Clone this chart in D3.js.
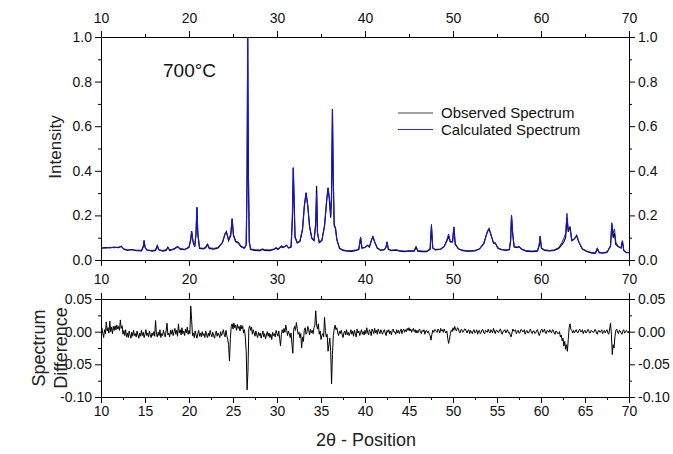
<!DOCTYPE html>
<html><head><meta charset="utf-8">
<script src="https://cdn.jsdelivr.net/npm/d3@7"></script>
<style>body{margin:0;background:#fff}text{font-family:"Liberation Sans",Arial,sans-serif}</style>
</head><body><svg id="c" width="673" height="454"></svg>
<script>
const twoTheta=[
10.0,10.5,11.0,11.5,12.0,12.3,12.6,13.0,13.5,14.0,
14.6,14.8,14.9,15.0,15.2,15.8,16.2,16.4,16.55,17.0,
17.4,17.6,17.8,18.3,18.7,19.0,19.5,20.0,20.2,20.3,
20.45,20.65,20.8,20.9,21.0,21.2,21.6,21.9,22.1,22.3,
22.8,23.3,23.8,24.1,24.25,24.5,24.75,24.9,25.05,25.3,
25.6,25.9,26.3,26.5,26.6,26.67,26.75,26.85,27.0,27.5,
28.0,28.4,28.6,29.2,29.7,29.9,30.1,30.5,30.7,31.1,
31.3,31.6,31.75,31.85,31.95,32.05,32.3,32.6,32.9,33.1,
33.3,33.5,33.7,33.95,34.2,34.4,34.5,34.6,34.8,35.1,
35.4,35.65,35.8,35.95,36.1,36.2,36.3,36.38,36.5,36.65,
36.8,37.1,37.5,38.0,38.5,39.0,39.3,39.5,39.65,40.0,
40.3,40.5,40.75,40.9,41.1,41.4,41.8,42.2,42.4,42.5,
42.65,43.0,43.5,44.0,44.5,45.0,45.6,45.8,46.0,46.5,
47.0,47.4,47.55,47.7,48.0,48.6,49.0,49.3,49.5,49.7,
49.95,50.1,50.25,50.6,51.0,51.5,52.0,52.5,53.0,53.5,
53.9,54.1,54.35,54.6,54.8,55.1,55.5,56.0,56.4,56.55,
56.65,56.78,56.95,57.3,57.5,57.8,58.3,59.0,59.6,59.8,
59.9,60.05,60.4,61.0,61.5,62.0,62.4,62.6,62.8,62.95,
63.1,63.3,63.5,63.8,64.05,64.3,64.7,65.2,65.8,66.2,
66.4,66.6,67.0,67.5,67.9,68.05,68.2,68.35,68.5,68.8,
69.1,69.25,69.4,69.7,70.0];
const calculated=[
.055,.053,.057,.055,.058,.060,.050,.046,.045,.044,
.044,.060,.088,.060,.044,.043,.045,.066,.045,.043,
.046,.054,.046,.048,.058,.052,.048,.055,.090,.127,
.085,.062,.120,.236,.120,.055,.052,.058,.072,.055,
.052,.056,.080,.120,.125,.090,.120,.184,.110,.080,
.075,.058,.052,.070,.400,1.000,.400,.080,.050,.046,
.045,.050,.046,.045,.050,.056,.050,.065,.058,.065,
.056,.060,.200,.414,.250,.100,.075,.085,.140,.240,
.300,.240,.150,.100,.085,.150,.300,.120,.080,.090,
.150,.270,.320,.280,.200,.300,.677,.400,.150,.140,
.090,.055,.045,.042,.042,.045,.050,.103,.055,.055,
.065,.060,.090,.105,.080,.055,.045,.045,.060,.082,
.050,.044,.046,.042,.040,.040,.042,.060,.042,.040,
.040,.050,.160,.055,.045,.048,.060,.090,.117,.080,
.080,.147,.070,.050,.045,.042,.042,.043,.050,.075,
.125,.139,.110,.078,.076,.055,.048,.045,.048,.090,
.202,.120,.060,.058,.062,.050,.042,.040,.042,.070,
.108,.055,.045,.043,.045,.055,.080,.098,.120,.209,
.130,.143,.085,.095,.109,.080,.050,.040,.033,.033,
.053,.035,.033,.036,.060,.167,.120,.138,.080,.060,
.055,.087,.045,.034,.034];
const observed=[
.052,.056,.054,.058,.055,.062,.048,.043,.047,.042,
.041,.058,.087,.057,.046,.040,.043,.064,.047,.040,
.043,.057,.043,.050,.060,.049,.046,.058,.095,.130,
.082,.059,.118,.236,.117,.052,.050,.055,.070,.052,
.049,.054,.077,.117,.127,.087,.110,.186,.114,.084,
.079,.061,.054,.068,.340,1.000,.380,.082,.047,.043,
.042,.047,.043,.042,.048,.054,.047,.060,.056,.066,
.054,.058,.180,.414,.258,.105,.078,.083,.135,.238,
.302,.243,.152,.098,.087,.165,.332,.125,.078,.087,
.155,.268,.325,.270,.190,.280,.677,.390,.160,.142,
.092,.052,.043,.040,.039,.043,.047,.100,.053,.057,
.066,.058,.091,.105,.082,.052,.043,.047,.058,.080,
.048,.042,.044,.040,.038,.041,.040,.058,.040,.038,
.038,.048,.150,.053,.047,.049,.061,.085,.105,.082,
.082,.149,.072,.051,.043,.040,.040,.041,.049,.073,
.127,.141,.108,.076,.077,.053,.046,.043,.046,.086,
.196,.118,.058,.056,.060,.048,.040,.038,.040,.066,
.104,.053,.043,.041,.043,.052,.070,.082,.100,.190,
.126,.150,.087,.095,.110,.081,.049,.038,.031,.031,
.051,.033,.031,.034,.064,.160,.100,.120,.070,.059,
.053,.085,.043,.033,.033];
const diffStart=10, diffStep=0.1;
const difference=[
-0.004,0.006,-0.002,-0.009,0.003,-0.003,0.015,0.001,0.006,-0.002,0.016,0.000,0.007,-0.003,0.008,0.002,0.009,0.003,0.010,0.004,
0.008,0.002,0.018,0.005,0.009,-0.004,0.002,-0.006,0.003,-0.008,-0.002,-0.009,0.001,-0.005,-0.010,-0.001,-0.007,0.002,-0.006,-0.003,
-0.008,0.001,-0.005,-0.010,-0.002,-0.007,0.002,-0.006,-0.001,-0.009,-0.004,0.003,-0.006,-0.002,-0.008,0.001,-0.005,-0.009,-0.002,-0.006,
0.000,-0.007,0.017,-0.004,-0.008,-0.001,-0.006,0.003,-0.009,-0.003,-0.006,0.002,-0.004,-0.008,0.001,0.013,-0.005,-0.002,-0.008,0.002,
-0.004,0.003,-0.006,0.000,0.005,-0.004,0.002,-0.007,0.012,-0.002,0.003,-0.005,0.006,-0.003,0.001,-0.006,0.004,-0.002,0.007,-0.004,
0.002,-0.003,0.039,0.018,-0.006,-0.002,-0.009,0.001,-0.005,-0.010,-0.003,0.002,-0.007,-0.002,-0.008,0.000,-0.006,-0.003,-0.009,0.001,
-0.005,-0.009,-0.002,-0.007,0.002,-0.004,-0.008,-0.001,-0.006,-0.010,-0.003,0.001,-0.007,-0.002,-0.005,-0.009,0.000,-0.006,-0.003,0.003,
-0.004,-0.008,0.002,-0.006,-0.012,-0.020,-0.045,-0.010,0.008,0.012,0.004,0.013,0.006,0.010,0.002,0.011,0.005,0.008,0.001,0.010,
0.004,0.009,-0.002,0.003,-0.008,-0.030,-0.089,-0.060,0.005,0.009,0.002,0.007,-0.004,0.003,-0.002,-0.007,0.001,-0.005,-0.009,-0.001,
-0.006,-0.002,-0.010,-0.004,0.001,-0.008,-0.003,-0.011,-0.005,0.000,-0.007,-0.002,-0.009,-0.004,-0.012,-0.001,-0.006,-0.003,-0.008,0.002,
-0.003,-0.007,0.001,-0.010,-0.022,-0.004,0.003,-0.002,0.005,-0.001,0.010,0.002,-0.006,0.001,-0.003,-0.009,-0.002,-0.020,-0.033,0.004,
0.008,0.002,0.014,0.005,-0.004,-0.001,-0.009,-0.003,-0.025,-0.008,-0.015,0.002,0.006,-0.004,-0.001,0.008,0.003,-0.005,0.004,-0.002,
0.002,-0.003,0.006,0.010,0.032,0.010,0.004,0.012,-0.004,0.001,-0.012,-0.006,-0.003,-0.008,0.022,0.002,-0.008,-0.004,-0.030,-0.020,
-0.010,-0.030,-0.080,-0.035,-0.006,0.004,0.010,0.003,0.006,-0.002,-0.006,0.001,-0.003,0.002,-0.004,-0.009,-0.002,0.001,-0.005,0.003,
-0.005,-0.001,-0.006,-0.002,0.003,-0.004,0.001,-0.007,0.002,-0.003,-0.008,0.004,-0.002,0.001,-0.006,-0.001,0.003,-0.004,0.000,-0.005,
0.002,-0.003,0.006,-0.001,-0.005,0.003,0.000,-0.006,0.004,0.001,-0.003,0.005,-0.002,0.002,-0.004,0.004,0.000,-0.003,0.003,-0.001,
-0.004,0.001,0.003,-0.002,-0.006,0.002,-0.001,0.003,-0.003,0.001,-0.005,0.002,0.004,-0.001,0.000,-0.004,0.003,-0.002,0.002,-0.003,
0.001,0.004,-0.003,0.002,0.004,-0.001,0.003,0.000,0.005,0.002,0.006,0.001,0.004,-0.001,0.003,0.005,0.000,0.003,-0.002,0.002,
-0.002,0.002,0.004,-0.001,-0.003,0.002,0.000,0.003,-0.004,0.001,0.002,-0.002,0.001,-0.004,-0.006,-0.013,-0.004,0.002,-0.001,0.003,
0.003,0.000,-0.001,0.004,0.002,-0.002,0.005,0.001,0.003,-0.001,0.004,0.000,-0.002,0.001,-0.010,-0.018,-0.012,-0.003,0.002,0.000,
0.006,0.002,0.008,0.003,0.001,0.006,0.005,0.000,-0.002,0.003,0.003,-0.001,0.000,0.004,0.004,0.001,-0.002,0.002,0.003,-0.003,
0.002,-0.001,-0.003,0.002,0.003,-0.002,0.000,0.003,-0.004,0.001,0.002,-0.003,-0.001,0.003,0.003,-0.002,-0.003,0.002,0.001,-0.001,
0.004,0.000,-0.002,0.003,0.001,-0.002,0.005,0.001,-0.003,0.002,0.002,-0.001,-0.001,0.003,0.004,-0.002,-0.004,0.001,0.001,0.003,
-0.002,0.001,0.003,-0.002,-0.001,-0.005,-0.008,-0.002,0.004,0.001,0.001,0.003,-0.003,0.000,0.002,-0.002,-0.002,0.003,0.003,0.000,
0.000,0.003,-0.004,0.000,0.002,-0.002,-0.002,0.002,0.004,-0.001,-0.003,0.001,0.001,-0.003,-0.002,0.002,0.003,-0.002,-0.006,-0.002,
0.002,0.004,-0.001,0.001,0.004,-0.002,-0.003,0.002,0.001,-0.001,0.003,0.000,-0.002,0.003,0.002,-0.002,-0.004,0.001,0.000,-0.003,
-0.003,0.000,-0.008,-0.005,-0.014,-0.010,-0.022,-0.015,-0.027,-0.020,-0.030,-0.012,0.006,0.012,0.003,0.002,-0.002,0.002,-0.002,0.001,
0.003,-0.001,-0.002,0.002,0.004,0.000,0.000,0.003,-0.003,0.001,0.002,-0.002,-0.001,0.003,0.003,-0.002,-0.002,0.002,0.001,-0.001,
-0.001,0.003,0.003,-0.002,-0.004,0.001,0.002,-0.001,0.000,0.003,-0.003,0.000,0.002,-0.002,0.001,0.003,-0.002,-0.004,0.004,0.013,
-0.004,-0.035,-0.020,-0.025,-0.008,0.002,0.004,-0.001,-0.003,0.002,0.001,-0.002,-0.004,0.001,0.003,-0.002,-0.001,0.002,0.000,-0.002,
0.001];
const xMajorTop=[10,20,30,40,50,60,70];
const xMinorTop=[15,25,35,45,55,65];
const xMajorBottom=[10,15,20,25,30,35,40,45,50,55,60,65,70];
const xMinorBottom=[12.5,17.5,22.5,27.5,32.5,37.5,42.5,47.5,52.5,57.5,62.5,67.5];
const intensityMajor=[0,0.2,0.4,0.6,0.8,1.0];
const intensityMinor=[0.1,0.3,0.5,0.7,0.9];
const diffMajor=[-0.10,-0.05,0,0.05];
const diffMinor=[-0.075,-0.025,0.025];

const svg=d3.select("#c");
const L=101,R=629;
const x=d3.scaleLinear().domain([10,70]).range([L,R]);
const yT=d3.scaleLinear().domain([0,1]).range([260,37]);
const yB=d3.scaleLinear().domain([-0.1,0.05]).range([397,299]);
const FS=14;

function ax(mk,tr,major,minor,fmt,pad){
  const g=svg.append("g").attr("transform",tr);
  g.call(mk().tickValues(major).tickSize(6).tickSizeOuter(0).tickPadding(pad).tickFormat(fmt));
  const m=svg.append("g").attr("transform",tr);
  m.call(mk().tickValues(minor).tickSize(3).tickSizeOuter(0).tickFormat(""));
  m.select(".domain").remove();
  [g,m].forEach(s=>{s.selectAll("text").attr("font-size",FS).attr("fill","#111").attr("font-family","Liberation Sans, Arial, sans-serif");
    s.selectAll("line,path").attr("stroke","#000");});
  return g;
}
const fx=d=>String(d);
const f1=d=>d.toFixed(1);
const f2=d=>d.toFixed(2);
const none=()=>"";
// top panel
ax(()=>d3.axisBottom(x),`translate(0,${yT(0)})`,xMajorTop,xMinorTop,fx,8);
ax(()=>d3.axisTop(x),`translate(0,${yT(1)})`,xMajorTop,xMinorTop,fx,8);
ax(()=>d3.axisLeft(yT),`translate(${L},0)`,intensityMajor,intensityMinor,f1,3);
ax(()=>d3.axisRight(yT),`translate(${R},0)`,intensityMajor,intensityMinor,f1,3);
// bottom panel
ax(()=>d3.axisBottom(x),`translate(0,${yB(-0.1)})`,xMajorBottom,xMinorBottom,fx,3);
ax(()=>d3.axisTop(x),`translate(0,${yB(0.05)})`,xMajorTop,xMinorTop,none,3);
ax(()=>d3.axisLeft(yB),`translate(${L},0)`,diffMajor,diffMinor,f2,3);
ax(()=>d3.axisRight(yB),`translate(${R},0)`,diffMajor,diffMinor,f2,3);

svg.append("clipPath").attr("id","cpT").append("rect").attr("x",L).attr("y",yT(1)-1).attr("width",R-L).attr("height",yT(0)-yT(1)+1);
svg.append("clipPath").attr("id","cpB").append("rect").attr("x",L).attr("y",yB(0.05)).attr("width",R-L).attr("height",yB(-0.1)-yB(0.05));

const lineObs=d3.line().x((d,i)=>x(twoTheta[i])).y(d=>yT(d));
svg.append("path").datum(observed).attr("d",lineObs).attr("fill","none").attr("stroke","#000").attr("stroke-width",1.2).attr("clip-path","url(#cpT)");
svg.append("path").datum(calculated).attr("d",lineObs).attr("fill","none").attr("stroke","#1515ee").attr("stroke-width",1).attr("clip-path","url(#cpT)");

const lineDiff=d3.line().x((d,i)=>x(diffStart+i*diffStep)).y(d=>yB(d));
svg.append("path").datum(difference).attr("d",lineDiff).attr("fill","none").attr("stroke","#000").attr("stroke-width",1).attr("clip-path","url(#cpB)");

// labels
svg.append("text").attr("x",163).attr("y",77).attr("font-size",19).attr("fill","#111").text("700°C");
const lg=[["Observed Spectrum","#444"],["Calculated Spectrum","#2a2aff"]];
lg.forEach((d,i)=>{
  const yy=113+i*16.5;
  svg.append("line").attr("x1",398).attr("x2",433).attr("y1",yy).attr("y2",yy).attr("stroke",d[1]).attr("stroke-width",1.2);
  svg.append("text").attr("x",441).attr("y",yy+5).attr("font-size",15).attr("fill","#111").text(d[0]);
});
svg.append("text").attr("transform","translate(61,147) rotate(-90)").attr("text-anchor","middle").attr("font-size",17).attr("fill","#222").text("Intensity");
svg.append("text").attr("transform","translate(45,348) rotate(-90)").attr("text-anchor","middle").attr("font-size",18).attr("fill","#222").text("Spectrum");
svg.append("text").attr("transform","translate(67,348) rotate(-90)").attr("text-anchor","middle").attr("font-size",18).attr("fill","#222").text("Difference");
svg.append("text").attr("x",366).attr("y",446).attr("text-anchor","middle").attr("font-size",18).attr("fill","#222").text("2θ - Position");
</script></body></html>
